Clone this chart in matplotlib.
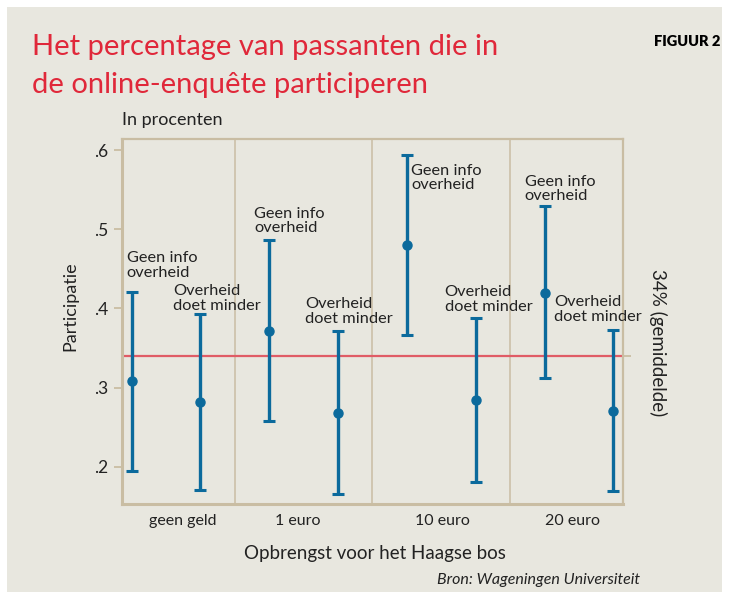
import matplotlib
matplotlib.use("Agg")
import matplotlib.pyplot as plt
from matplotlib.patches import Rectangle

plt.rcParams['font.family'] = ['Lato', 'DejaVu Sans']

# data
groups = ['geen geld', '1 euro', '10 euro', '20 euro']
group_pos = [1.74, 3.42, 5.51, 7.40]   # where the group names sit
separators = [2.5, 4.5, 6.5]
point_labels = ['Geen info\noverheid', 'Overheid\ndoet minder'] * 4
est = [0.308, 0.282, 0.372, 0.268, 0.480, 0.284, 0.420, 0.271]
lower = [0.195, 0.171, 0.258, 0.165, 0.367, 0.181, 0.312, 0.169]
upper = [0.421, 0.393, 0.486, 0.372, 0.594, 0.388, 0.529, 0.373]
mean_line = 0.34
yticks = [0.2, 0.3, 0.4, 0.5, 0.6]

# label offsets in pixels from the upper cap (dx, dy, va)
label_off = [(-5, 12, 'bottom'), (-27, 1, 'bottom'), (-15, 5, 'bottom'), (-33, 5, 'bottom'),
             (4, -9, 'top'), (-31, 4, 'bottom'), (-20, 3, 'bottom'), (-59, 6, 'bottom')]

bg = '#e8e7df'
tan = '#c9bda3'
blue = '#0b6a9c'
red = '#e05c66'

fig = plt.figure(figsize=(7.29, 5.99), dpi=100)
fig.patch.set_facecolor('white')
fig.patches.append(Rectangle((7/729, 7/599), 715/729, 585/599, transform=fig.transFigure,
                             facecolor=bg, edgecolor='none', zorder=-10))

ax = fig.add_axes([122/729, 1-504/599, 501/729, 365/599])
ax.set_facecolor(bg)

xs = list(range(1, len(est)+1))
yerr = [[e-l for e, l in zip(est, lower)], [u-e for u, e in zip(upper, est)]]
ax.errorbar(xs, est, yerr=yerr, fmt='o', color=blue, ms=6.5, lw=2.4,
            capsize=4, capthick=2.2, zorder=3)

ax.axhline(mean_line, color=red, lw=1.6, zorder=2)
for s in separators:
    ax.axvline(s, color=tan, lw=1.1, zorder=1)

for x, u, lab, (dx, dy, va) in zip(xs, upper, point_labels, label_off):
    ax.annotate(lab, xy=(x, u), xytext=(dx, dy), textcoords='offset pixels',
                ha='left', va=va, fontsize=11.8, linespacing=1.05, color='#222222')

ax.set_xlim(0.86, 8.14)
ax.set_ylim(0.153, 0.614)
ax.set_yticks(yticks)
ax.set_yticklabels(['.' + str(int(round(t*10))) for t in yticks], fontsize=12.5, color='#222222')
ax.set_xticks(group_pos)
ax.set_xticklabels(groups, fontsize=11.5, color='#222222')
ax.tick_params(axis='x', length=0, pad=7)
ax.tick_params(axis='y', length=6, width=1.3, color=tan, pad=4)

for side in ['left', 'bottom']:
    ax.spines[side].set_color(tan)
    ax.spines[side].set_linewidth(2.2)
for side in ['top', 'right']:
    ax.spines[side].set_color(tan)
    ax.spines[side].set_linewidth(1.6)

# small tick on the right at the mean
ax2 = ax.twinx()
ax2.set_ylim(ax.get_ylim())
ax2.set_yticks([mean_line])
ax2.set_yticklabels([''])
ax2.tick_params(axis='y', length=6, width=1.3, color=tan)
for sp in ax2.spines.values():
    sp.set_visible(False)

fig.text(122/729, 1-120/599, 'In procenten', fontsize=13, va='center', ha='left', color='#222222')
fig.text(70/729, 1-306/599, 'Participatie', fontsize=13, rotation=90, va='center', ha='center', color='#222222')
fig.text(658/729, 1-343/599, '34% (gemiddelde)', fontsize=13.5, rotation=-90, va='center', ha='center', color='#222222')
fig.text(375/729, 1-553/599, 'Opbrengst voor het Haagse bos', fontsize=13.5, va='center', ha='center', color='#222222')
fig.text(640/729, 1-580/599, 'Bron: Wageningen Universiteit', fontsize=11.5, style='italic',
         va='center', ha='right', color='#222222')

fig.text(32/729, 1-47/599, 'Het percentage van passanten die in', fontsize=21, color='#e0283a', va='center', ha='left')
fig.text(32/729, 1-85/599, 'de online-enquête participeren', fontsize=21, color='#e0283a', va='center', ha='left')
fig.text(720/729, 1-42/599, 'FIGUUR 2', fontsize=10.5, fontweight='heavy', color='black', va='center', ha='right')

fig.savefig('out.png', dpi=100, facecolor='white')
